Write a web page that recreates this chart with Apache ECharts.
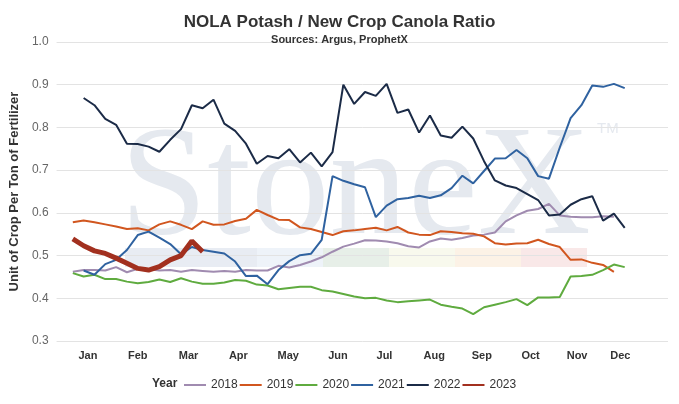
<!DOCTYPE html>
<html>
<head>
<meta charset="utf-8">
<title>NOLA Potash / New Crop Canola Ratio</title>
<script src="https://cdn.jsdelivr.net/npm/echarts@6/dist/echarts.min.js"></script>
<style>
    html, body { margin: 0; padding: 0; background: #fff; }
    #chart { width: 679px; height: 404px; }
</style>
</head>
<body>
<div id="chart"></div>
<script>
// weekly ratio per year, first value is the week in startWeek
var years = ['2018', '2019', '2020', '2021', '2022', '2023'];
var startWeek = [1, 1, 1, 2, 2, 1];

var r2018 = [0.462, 0.466, 0.466, 0.465, 0.473, 0.461, 0.469, 0.468, 0.465, 0.466,
    0.462, 0.466, 0.464, 0.462, 0.464, 0.462, 0.466, 0.465, 0.465, 0.476,
    0.472, 0.478, 0.486, 0.496, 0.509, 0.521, 0.528, 0.536, 0.535, 0.533,
    0.529, 0.522, 0.519, 0.533, 0.540, 0.537, 0.541, 0.547, 0.549, 0.554,
    0.580, 0.594, 0.605, 0.609, 0.621, 0.594, 0.591, 0.590, 0.590, 0.592, 0.591];
var r2019 = [0.578, 0.582, 0.578, 0.573, 0.568, 0.562, 0.564, 0.559, 0.573, 0.580,
    0.572, 0.562, 0.580, 0.572, 0.573, 0.581, 0.586, 0.607, 0.595, 0.584,
    0.583, 0.566, 0.562, 0.555, 0.548, 0.557, 0.559, 0.562, 0.565, 0.559,
    0.567, 0.554, 0.549, 0.548, 0.557, 0.555, 0.552, 0.551, 0.545, 0.529,
    0.526, 0.528, 0.529, 0.537, 0.527, 0.520, 0.490, 0.491, 0.483, 0.478, 0.462];
var r2020 = [0.459, 0.451, 0.455, 0.445, 0.445, 0.439, 0.435, 0.438, 0.444, 0.438,
    0.447, 0.439, 0.434, 0.434, 0.437, 0.443, 0.441, 0.432, 0.430, 0.421,
    0.424, 0.427, 0.427, 0.419, 0.416, 0.410, 0.404, 0.400, 0.401, 0.395,
    0.391, 0.393, 0.395, 0.397, 0.385, 0.380, 0.376, 0.363, 0.379, 0.385,
    0.391, 0.398, 0.384, 0.402, 0.402, 0.403, 0.451, 0.452, 0.455, 0.466,
    0.479, 0.473];
var r2021 = [0.465, 0.455, 0.480, 0.490, 0.513, 0.548, 0.556, 0.542, 0.527, 0.503,
    0.520, 0.513, 0.509, 0.505, 0.486, 0.452, 0.453, 0.433, 0.466, 0.487,
    0.501, 0.504, 0.537, 0.686, 0.675, 0.667, 0.660, 0.590, 0.617, 0.632,
    0.635, 0.640, 0.635, 0.641, 0.658, 0.687, 0.669, 0.698, 0.727, 0.728,
    0.747, 0.728, 0.686, 0.680, 0.753, 0.822, 0.852, 0.898, 0.895, 0.902, 0.892];
var r2022 = [0.869, 0.852, 0.820, 0.806, 0.762, 0.761, 0.755, 0.743, 0.771, 0.796,
    0.852, 0.845, 0.865, 0.809, 0.792, 0.762, 0.715, 0.733, 0.728, 0.749,
    0.718, 0.741, 0.709, 0.742, 0.900, 0.855, 0.883, 0.874, 0.902, 0.834,
    0.842, 0.788, 0.828, 0.781, 0.776, 0.802, 0.774, 0.721, 0.676, 0.664,
    0.658, 0.644, 0.630, 0.594, 0.596, 0.619, 0.632, 0.639, 0.582, 0.598, 0.565];
var r2023 = [0.539, 0.523, 0.511, 0.505, 0.494, 0.482, 0.470, 0.466, 0.474, 0.490,
    0.500, 0.534, 0.509];

var ratios = [r2018, r2019, r2020, r2021, r2022, r2023];
var colors = ['#a08bb0', '#d1561f', '#5fab3f', '#2f62a0', '#1b2b47', '#a2301f'];
var widths = [2, 2, 2, 2, 2, 5];

// month labels sit on the week axis
var months = ['Jan', 'Feb', 'Mar', 'Apr', 'May', 'Jun', 'Jul', 'Aug', 'Sep', 'Oct', 'Nov', 'Dec'];
var monthPos = [2.4, 7.0, 11.7, 16.3, 20.9, 25.5, 29.8, 34.4, 38.8, 43.3, 47.6, 51.6];

var font = '"Liberation Sans", Arial, sans-serif';

var series = years.map(function (y, k) {
    return {
        name: y,
        type: 'line',
        color: colors[k],
        showSymbol: false,
        symbol: 'none',
        lineStyle: { width: widths[k], color: colors[k] },
        data: ratios[k].map(function (v, i) { return [startWeek[k] + i, v]; })
    };
});

// StoneX watermark behind the grid
var bandColors = ['#e8ecf3', '#e8ecf3', '#eef3f9', '#e7efe8', '#f8f9ed', '#fcf2e6', '#f9e8e8'];
var watermark = [{
    type: 'text',
    z: -10,
    style: {
        x: 120, y: 192,
        text: 'StoneX',
        font: '157px "Liberation Serif", "Times New Roman", serif',
        fill: '#e5e9ef',
        verticalAlign: 'middle'
    }
}, {
    type: 'text',
    z: -10,
    style: {
        x: 597, y: 129,
        text: 'TM',
        font: '15px ' + font,
        fill: '#e5e9ef',
        verticalAlign: 'middle'
    }
}];
bandColors.forEach(function (c, i) {
    watermark.push({
        type: 'rect',
        z: -10,
        shape: { x: 125 + i * 66, y: 248, width: 66, height: 19 },
        style: { fill: c }
    });
});
watermark.push({
    type: 'text',
    style: {
        x: 152, y: 384,
        text: 'Year',
        font: 'bold 12px ' + font,
        fill: '#333',
        verticalAlign: 'middle'
    }
});

var myChart = echarts.init(document.getElementById('chart'));
myChart.setOption({
    animation: false,
    backgroundColor: '#fff',
    textStyle: { fontFamily: font },
    title: {
        left: 'center',
        top: 9,
        text: 'NOLA Potash / New Crop Canola Ratio',
        subtext: 'Sources: Argus, ProphetX',
        itemGap: 3,
        textStyle: { fontSize: 17, fontWeight: 'bold', color: '#333', fontFamily: font },
        subtextStyle: { fontSize: 11, fontWeight: 'bold', color: '#333', fontFamily: font }
    },
    legend: {
        left: 179,
        top: 374,
        icon: 'rect',
        itemWidth: 22,
        itemHeight: 2,
        itemGap: 2,
        data: years,
        textStyle: { fontSize: 12, color: '#333', fontFamily: font }
    },
    graphic: watermark,
    grid: { left: 52, right: 11, top: 42, bottom: 63 },
    xAxis: {
        type: 'value',
        min: -0.5,
        max: 56,
        axisLine: { show: false },
        axisTick: { show: false },
        splitLine: { show: false },
        axisLabel: {
            customValues: monthPos,
            margin: 9,
            fontSize: 11,
            fontWeight: 'bold',
            color: '#333',
            fontFamily: font,
            formatter: function (v) {
                var i = monthPos.indexOf(v);
                return i >= 0 ? months[i] : '';
            }
        }
    },
    yAxis: {
        type: 'value',
        min: 0.3,
        max: 1.0,
        interval: 0.1,
        name: 'Unit of Crop Per Ton of Fertilizer',
        nameLocation: 'middle',
        nameGap: 33,
        nameTextStyle: { fontSize: 13, fontWeight: 'bold', color: '#333', fontFamily: font },
        axisLine: { show: false },
        axisTick: { show: false },
        splitLine: { lineStyle: { color: '#e3e3e3', width: 1 } },
        axisLabel: {
            margin: 8,
            fontSize: 12,
            color: '#666',
            fontFamily: font,
            formatter: function (v) { return v.toFixed(1); }
        }
    },
    series: series
});
</script>
</body>
</html>
